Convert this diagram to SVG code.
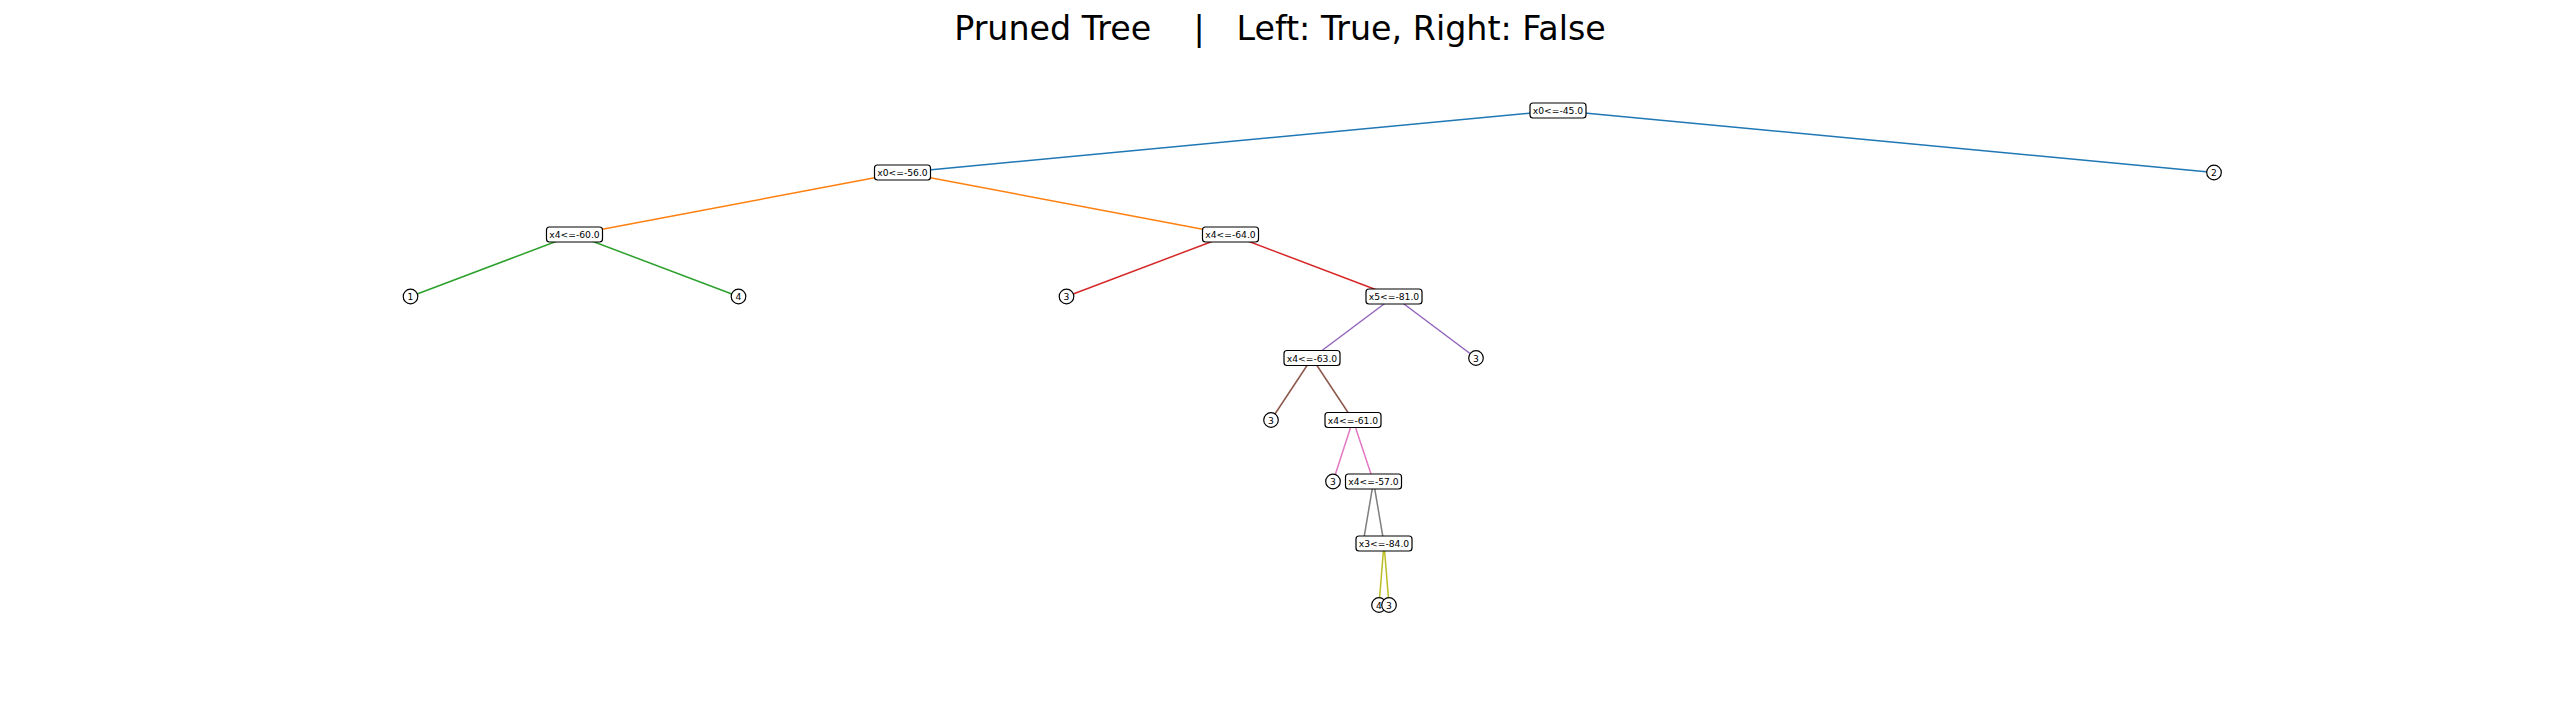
<svg xmlns="http://www.w3.org/2000/svg" width="2560" height="720" viewBox="0 0 2560 720">
<style>
.title{font-family:"DejaVu Sans",sans-serif;font-size:33.3px;fill:#000;white-space:pre}
.box{fill:#fff;stroke:#000;stroke-width:1.2}
.lbl{font-family:"DejaVu Sans",sans-serif;font-size:9.2px;fill:#000;text-anchor:middle;dominant-baseline:central}
.leaf{fill:#fff;stroke:#000;stroke-width:1.2}
.e{stroke-width:1.5;fill:none}
</style>
<rect width="2560" height="720" fill="#fff"/>
<text class="title" x="1280" y="40" text-anchor="middle" xml:space="preserve">Pruned Tree    |   Left: True, Right: False</text>
<g id="connectors">
<line class="e" stroke="#1f77b4" x1="1558" y1="110.5" x2="902.5" y2="172.5"/>
<line class="e" stroke="#1f77b4" x1="1558" y1="110.5" x2="2214" y2="172.5"/>
<line class="e" stroke="#ff7f0e" x1="902.5" y1="172.5" x2="574.5" y2="234.5"/>
<line class="e" stroke="#ff7f0e" x1="902.5" y1="172.5" x2="1230.5" y2="234.5"/>
<line class="e" stroke="#2ca02c" x1="574.5" y1="234.5" x2="410.5" y2="296.5"/>
<line class="e" stroke="#2ca02c" x1="574.5" y1="234.5" x2="738.5" y2="296.5"/>
<line class="e" stroke="#d62728" x1="1230.5" y1="234.5" x2="1066.5" y2="296.5"/>
<line class="e" stroke="#d62728" x1="1230.5" y1="234.5" x2="1394" y2="296.5"/>
<line class="e" stroke="#9467bd" x1="1394" y1="296.5" x2="1312" y2="358"/>
<line class="e" stroke="#9467bd" x1="1394" y1="296.5" x2="1476" y2="358"/>
<line class="e" stroke="#8c564b" x1="1312" y1="358" x2="1271" y2="420"/>
<line class="e" stroke="#8c564b" x1="1312" y1="358" x2="1353" y2="420"/>
<line class="e" stroke="#e377c2" x1="1353" y1="420" x2="1333" y2="481.5"/>
<line class="e" stroke="#e377c2" x1="1353" y1="420" x2="1373.5" y2="481.5"/>
<line class="e" stroke="#7f7f7f" x1="1373.5" y1="481.5" x2="1363" y2="543.5"/>
<line class="e" stroke="#7f7f7f" x1="1373.5" y1="481.5" x2="1384" y2="543.5"/>
<line class="e" stroke="#bcbd22" x1="1384" y1="543.5" x2="1379" y2="605"/>
<line class="e" stroke="#bcbd22" x1="1384" y1="543.5" x2="1389" y2="605"/>
</g>
<g id="n_root"><rect class="box" x="1530" y="103" width="56" height="15" rx="3"/><text class="lbl" x="1558" y="110.5">x0&lt;=-45.0</text></g>
<g id="n_l1"><rect class="box" x="874.5" y="165" width="56" height="15" rx="3"/><text class="lbl" x="902.5" y="172.5">x0&lt;=-56.0</text></g>
<g id="leaf_2"><circle class="leaf" cx="2214" cy="172.5" r="7.3"/><text class="lbl" x="2214" y="172.5">2</text></g>
<g id="n_l2a"><rect class="box" x="546.5" y="227" width="56" height="15" rx="3"/><text class="lbl" x="574.5" y="234.5">x4&lt;=-60.0</text></g>
<g id="n_l2b"><rect class="box" x="1202.5" y="227" width="56" height="15" rx="3"/><text class="lbl" x="1230.5" y="234.5">x4&lt;=-64.0</text></g>
<g id="leaf_1"><circle class="leaf" cx="410.5" cy="296.5" r="7.3"/><text class="lbl" x="410.5" y="296.5">1</text></g>
<g id="leaf_4a"><circle class="leaf" cx="738.5" cy="296.5" r="7.3"/><text class="lbl" x="738.5" y="296.5">4</text></g>
<g id="leaf_3a"><circle class="leaf" cx="1066.5" cy="296.5" r="7.3"/><text class="lbl" x="1066.5" y="296.5">3</text></g>
<g id="n_l3"><rect class="box" x="1366" y="289" width="56" height="15" rx="3"/><text class="lbl" x="1394" y="296.5">x5&lt;=-81.0</text></g>
<g id="n_l4"><rect class="box" x="1284" y="350.5" width="56" height="15" rx="3"/><text class="lbl" x="1312" y="358">x4&lt;=-63.0</text></g>
<g id="leaf_3b"><circle class="leaf" cx="1476" cy="358" r="7.3"/><text class="lbl" x="1476" y="358">3</text></g>
<g id="leaf_3c"><circle class="leaf" cx="1271" cy="420" r="7.3"/><text class="lbl" x="1271" y="420">3</text></g>
<g id="n_l5"><rect class="box" x="1325" y="412.5" width="56" height="15" rx="3"/><text class="lbl" x="1353" y="420">x4&lt;=-61.0</text></g>
<g id="leaf_3d"><circle class="leaf" cx="1333" cy="481.5" r="7.3"/><text class="lbl" x="1333" y="481.5">3</text></g>
<g id="n_l6"><rect class="box" x="1345.5" y="474" width="56" height="15" rx="3"/><text class="lbl" x="1373.5" y="481.5">x4&lt;=-57.0</text></g>
<g id="n_l7"><rect class="box" x="1356" y="536" width="56" height="15" rx="3"/><text class="lbl" x="1384" y="543.5">x3&lt;=-84.0</text></g>
<g id="leaf_4b"><circle class="leaf" cx="1379" cy="605" r="7.3"/><text class="lbl" x="1379" y="605">4</text></g>
<g id="leaf_3e"><circle class="leaf" cx="1389" cy="605" r="7.3"/><text class="lbl" x="1389" y="605">3</text></g>
</svg>
